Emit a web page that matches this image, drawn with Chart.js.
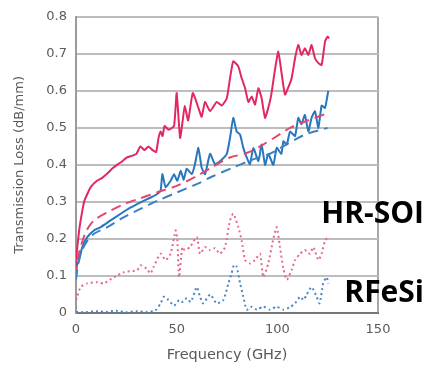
<!DOCTYPE html>
<html>
<head>
<meta charset="utf-8">
<script src="https://cdn.jsdelivr.net/npm/chart.js@4/dist/chart.umd.min.js"></script>
<style>
  html, body { margin: 0; padding: 0; background: #ffffff; }
  #wrap { position: relative; width: 429px; height: 369px; }
  canvas { display: block; }
</style>
</head>
<body>
<div id="wrap"><canvas id="c" width="429" height="369"></canvas></div>
<script>
// ---- data ----
const xTicks = [0, 50, 100, 150];
const yTicks = [0, 0.1, 0.2, 0.3, 0.4, 0.5, 0.6, 0.7, 0.8];
const seriesLabels = ["HR-SOI", "RFeSi"];

// HR-SOI measured (solid red)
const hrMeasFreq = [0,0.5,1.5,2.3,4,5.5,7.3,10.4,13,15.4,18,20.4,23,25.3,28,30,32,34,36,38,39.8,41,42,43,44,46,48.7,50,51.7,53,54,55.7,58,60.8,62.4,64.1,66.6,69.9,72.4,74.9,76.5,78.1,80.6,82.3,84,85.6,87.3,88.9,90.6,92.2,93.9,95.5,97,98.9,100.5,102,103.8,105.5,107.1,108.8,110.4,112,113.7,115.4,117,118.7,120.4,122,123.7,124.9,125.8];
const hrMeasLoss = [0.13,0.17,0.22,0.25,0.30,0.32,0.34,0.357,0.365,0.376,0.39,0.40,0.41,0.42,0.425,0.43,0.45,0.44,0.45,0.44,0.435,0.473,0.49,0.478,0.505,0.495,0.505,0.594,0.473,0.52,0.56,0.52,0.594,0.554,0.53,0.57,0.545,0.57,0.56,0.58,0.634,0.68,0.666,0.634,0.607,0.57,0.585,0.563,0.607,0.58,0.527,0.554,0.59,0.66,0.706,0.652,0.59,0.61,0.634,0.688,0.724,0.697,0.715,0.697,0.724,0.688,0.675,0.67,0.733,0.746,0.742];

// RFeSi measured (solid blue)
const rfMeasFreq = [0,0.5,1.5,3.1,5.6,8.9,12.3,17.2,22.2,27.2,32.1,37.1,40,42,42.9,44.5,47,48.7,50.3,52,53.5,55,57.5,59,60.8,62.4,64.1,66.6,69,71.5,74.9,76.5,78.1,79.8,81.5,83.1,84.8,86.4,88.1,90.6,92.2,93.9,95.5,98,99.7,102,103,104.7,106.3,108.8,110.4,112,113.7,115.4,117,118.7,120.4,122,123.7,125.3];
const rfMeasLoss = [0.12,0.13,0.142,0.178,0.205,0.223,0.232,0.25,0.268,0.285,0.299,0.312,0.32,0.33,0.375,0.34,0.357,0.375,0.357,0.384,0.36,0.39,0.375,0.4,0.446,0.393,0.375,0.43,0.402,0.41,0.43,0.473,0.527,0.49,0.482,0.446,0.42,0.402,0.446,0.41,0.455,0.40,0.43,0.40,0.446,0.43,0.464,0.455,0.49,0.478,0.527,0.51,0.535,0.49,0.527,0.545,0.5,0.56,0.554,0.6];

// HR-SOI model (dashed red)
const hrModelFreq = [0,1,2.3,5,8.9,15.6,23.8,32,40.4,50.3,60,68,76.5,84.8,93,101.3,106.3,115,125.2];
const hrModelLoss = [0.1,0.15,0.178,0.22,0.25,0.272,0.294,0.31,0.326,0.344,0.37,0.395,0.42,0.432,0.455,0.483,0.5,0.52,0.54];

// RFeSi model (dashed blue)
const rfModelFreq = [0,1,2.3,5,8.9,15.6,23.8,32,40.4,50.3,60.8,67.4,78.1,88,96.4,101.3,113,125];
const rfModelLoss = [0.09,0.13,0.16,0.19,0.214,0.232,0.259,0.281,0.303,0.326,0.35,0.368,0.393,0.415,0.43,0.445,0.48,0.5];

// HR-SOI dotted (red)
const hrDotFreq = [0,0.6,2.3,5.6,10.5,13.8,18.9,23.8,30.4,32.1,35,37,38.6,42,44.5,47,49.5,50.3,51.2,52.8,54,56.6,60,61.6,64.1,66.6,69,71.5,74,76.5,78.1,80.6,82.3,84,86.4,88.9,91.4,93,95.5,98,99.7,101.3,103,104.7,107.1,108.8,111.3,113.7,116.2,117.9,120.4,122,123.7,125.3];
const hrDotLoss = [0.035,0.044,0.07,0.08,0.083,0.08,0.097,0.11,0.116,0.129,0.12,0.107,0.125,0.16,0.143,0.16,0.223,0.2,0.097,0.178,0.17,0.178,0.205,0.16,0.178,0.17,0.175,0.16,0.178,0.25,0.268,0.232,0.196,0.143,0.134,0.143,0.16,0.097,0.134,0.2,0.232,0.178,0.12,0.09,0.116,0.143,0.16,0.17,0.16,0.178,0.143,0.16,0.196,0.205];

// RFeSi dotted (blue)
const rfDotFreq = [0,5,10,15,20,25,30,35,38.6,40,42,43.7,46,48.7,51.2,53,55,57,60,61.6,63.2,66.6,69.9,73.2,75.7,77.3,78.5,79.8,81.5,83.1,84.8,87.3,89.8,93,96.4,99.7,103,106,108.8,111.3,113,114.6,117,119.5,121,122.8,124.5,125.3];
const rfDotLoss = [0.003,0.002,0.005,0.003,0.006,0.002,0.005,0.003,0.005,0.01,0.026,0.044,0.035,0.02,0.035,0.03,0.04,0.03,0.07,0.044,0.026,0.05,0.026,0.035,0.08,0.107,0.13,0.125,0.08,0.044,0.009,0.017,0.009,0.017,0.009,0.017,0.009,0.015,0.026,0.044,0.035,0.05,0.07,0.044,0.026,0.08,0.097,0.08];

function pts(xs, ys) { return xs.map((x, i) => ({ x: x, y: ys[i] })); }

const RED = 'rgb(226,40,96)';
const RED_DASH = 'rgb(228,70,110)';
const RED_DOT = 'rgb(232,105,135)';
const BLUE = 'rgb(38,118,192)';
const BLUE_DASH = 'rgb(60,128,196)';
const BLUE_DOT = 'rgb(70,135,200)';

const LABEL_FONT = 'bold 30px "Open Sans"';

const labelPlugin = {
  id: 'seriesLabels',
  afterDraw(chart) {
    const ctx = chart.ctx;
    ctx.save();
    ctx.fillStyle = '#000';
    ctx.font = LABEL_FONT;
    ctx.textAlign = 'right';
    ctx.textBaseline = 'alphabetic';
    ctx.fillText(seriesLabels[0], 424, 223);
    ctx.fillText(seriesLabels[1], 424, 302);
    ctx.restore();
  }
};

function build() {
  new Chart(document.getElementById('c'), {
    type: 'line',
    data: {
      datasets: [
        { label: 'RFeSi dotted', data: pts(rfDotFreq, rfDotLoss), borderColor: BLUE_DOT, borderWidth: 2, borderDash: [2, 3], tension: 0.2 },
        { label: 'HR-SOI dotted', data: pts(hrDotFreq, hrDotLoss), borderColor: RED_DOT, borderWidth: 2, borderDash: [2, 3], tension: 0.2 },
        { label: 'RFeSi model', data: pts(rfModelFreq, rfModelLoss), borderColor: BLUE_DASH, borderWidth: 2, borderDash: [10, 6], tension: 0.3 },
        { label: 'HR-SOI model', data: pts(hrModelFreq, hrModelLoss), borderColor: RED_DASH, borderWidth: 2, borderDash: [10, 6], tension: 0.3 },
        { label: 'RFeSi', data: pts(rfMeasFreq, rfMeasLoss), borderColor: BLUE, borderWidth: 2, tension: 0.15 },
        { label: 'HR-SOI', data: pts(hrMeasFreq, hrMeasLoss), borderColor: RED, borderWidth: 2, tension: 0.15 }
      ]
    },
    options: {
      responsive: false,
      animation: false,
      devicePixelRatio: 1,
      elements: { point: { radius: 0 } },
      layout: { padding: { left: 0, right: 51, top: 15, bottom: 0 } },
      plugins: { legend: { display: false }, tooltip: { enabled: false } },
      scales: {
        x: {
          type: 'linear',
          min: 0, max: 150,
          afterBuildTicks(scale) { scale.ticks = xTicks.map(v => ({ value: v })); },
          afterFit(scale) { scale.height = 56; },
          ticks: { color: '#5a5a5a', font: { family: 'DejaVu Sans', size: 13 }, padding: 9 },
          grid: {
            drawTicks: false,
            lineWidth: 2,
            color: (c) => (c.tick && c.tick.value === 150) ? '#a8a8a8' : 'rgba(0,0,0,0)'
          },
          border: { color: '#777', width: 2 },
          title: { display: true, text: 'Frequency (GHz)', color: '#5a5a5a', font: { family: 'DejaVu Sans', size: 14.5 }, padding: { top: 0, bottom: 5 } }
        },
        y: {
          type: 'linear',
          min: 0, max: 0.8,
          afterBuildTicks(scale) { scale.ticks = yTicks.map(v => ({ value: v })); },
          afterFit(scale) { scale.width = 76; },
          ticks: {
            color: '#5a5a5a', font: { family: 'DejaVu Sans', size: 13 }, padding: 9,
            callback: (v) => (v === 0 ? '0' : String(Math.round(v * 10) / 10))
          },
          grid: { drawTicks: false, lineWidth: 2, color: '#bdbdbd' },
          border: { color: '#9a9a9a', width: 2 },
          title: { display: true, text: 'Transmission Loss (dB/mm)', color: '#5a5a5a', font: { family: 'DejaVu Sans', size: 13 }, padding: { top: 12, bottom: 0 } }
        }
      }
    },
    plugins: [labelPlugin]
  });
}

Promise.all([
  document.fonts.load(LABEL_FONT, 'HR-SOI RFeSi'),
  document.fonts.load('13px "DejaVu Sans"', '0123456789.')
]).then(build, build);
</script>
</body>
</html>
